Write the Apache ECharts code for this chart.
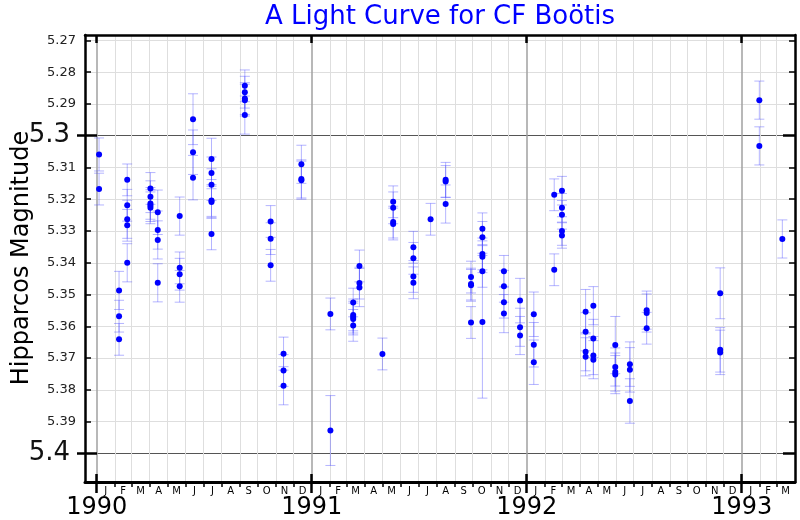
<!DOCTYPE html>
<html><head><meta charset="utf-8">
<script src="https://cdn.jsdelivr.net/npm/echarts@6/dist/echarts.min.js"></script>
<style>html,body{margin:0;padding:0;background:#fff}#c{width:800px;height:520px}</style>
</head><body><div id="c"></div>
<script>
// Observation epochs (decimal year), magnitudes and errors
const obsYear = [
  1990.011,1990.011,
  1990.104,1990.104,1990.104,
  1990.142,1990.142,1990.142,1990.142,1990.142,
  1990.250,1990.250,1990.250,1990.250,1990.250,
  1990.284,1990.284,1990.284,1990.284,
  1990.386,1990.386,1990.386,1990.386,
  1990.448,1990.448,1990.448,
  1990.534,1990.534,1990.534,1990.534,1990.534,1990.534,
  1990.689,1990.689,1990.689,1990.689,1990.689,
  1990.809,1990.809,1990.809,
  1990.869,1990.869,1990.869,
  1990.952,1990.952,1990.952,
  1991.087,1991.087,
  1991.193,1991.193,1991.193,1991.193,1991.193,
  1991.222,1991.222,1991.222,
  1991.329,
  1991.379,1991.379,1991.379,1991.379,
  1991.473,1991.473,1991.473,1991.473,
  1991.553,
  1991.623,1991.623,1991.623,
  1991.741,1991.741,1991.741,1991.741,
  1991.794,1991.794,1991.794,1991.794,1991.794,1991.794,
  1991.894,1991.894,1991.894,1991.894,
  1991.969,1991.969,1991.969,
  1992.033,1992.033,1992.033,
  1992.128,1992.128,
  1992.164,1992.164,1992.164,1992.164,1992.164,
  1992.274,1992.274,1992.274,1992.274,
  1992.310,1992.310,1992.310,1992.310,
  1992.412,1992.412,1992.412,1992.412,
  1992.480,1992.480,1992.480,
  1992.558,1992.558,1992.558,
  1992.900,1992.900,1992.900,
  1993.082,1993.082,
  1993.189
];
const obsMag = [
  5.3059,5.3168,
  5.3487,5.3568,5.3641,
  5.3139,5.3219,5.3263,5.3282,5.3400,
  5.3166,5.3192,5.3213,5.3220,5.3227,
  5.3241,5.3297,5.3328,5.3463,
  5.3253,5.3416,5.3436,5.3474,
  5.2948,5.3052,5.3132,
  5.3073,5.3117,5.3154,5.3204,5.3209,5.3309,
  5.2843,5.2863,5.2883,5.2888,5.2935,
  5.3270,5.3324,5.3408,
  5.3686,5.3739,5.3787,
  5.3090,5.3136,5.3140,
  5.3561,5.3928,
  5.3525,5.3564,5.3571,5.3577,5.3597,
  5.3410,5.3464,5.3478,
  5.3687,
  5.3208,5.3227,5.3272,5.3278,
  5.3351,5.3386,5.3443,5.3463,
  5.3263,
  5.3139,5.3144,5.3215,
  5.3445,5.3467,5.3471,5.3588,
  5.3293,5.3320,5.3372,5.3381,5.3427,5.3586,
  5.3427,5.3474,5.3524,5.3560,
  5.3519,5.3603,5.3629,
  5.3562,5.3658,5.3713,
  5.3186,5.3422,
  5.3173,5.3227,5.3249,5.3300,5.3314,
  5.3554,5.3617,5.3680,5.3696,
  5.3535,5.3638,5.3692,5.3705,
  5.3659,5.3728,5.3744,5.3752,
  5.3719,5.3737,5.3835,
  5.3549,5.3558,5.3606,
  5.3496,5.3674,5.3682,
  5.2888,5.3032,
  5.3325
];
const obsErr = [
  0.0052,0.0050,
  0.0060,0.0050,0.0050,
  0.0050,0.0050,0.0060,0.0050,0.0060,
  0.0050,0.0050,0.0050,0.0050,0.0050,
  0.0070,0.0060,0.0060,0.0060,
  0.0060,0.0050,0.0050,0.0050,
  0.0080,0.0070,0.0070,
  0.0065,0.0050,0.0050,0.0050,0.0050,0.0050,
  0.0050,0.0050,0.0050,0.0050,0.0060,
  0.0050,0.0050,0.0050,
  0.0052,0.0050,0.0060,
  0.0060,0.0060,0.0060,
  0.0050,0.0110,
  0.0045,0.0050,0.0050,0.0050,0.0050,
  0.0050,0.0050,0.0060,
  0.0050,
  0.0050,0.0050,0.0050,0.0050,
  0.0050,0.0050,0.0050,0.0050,
  0.0050,
  0.0055,0.0050,0.0060,
  0.0050,0.0050,0.0050,0.0050,
  0.0050,0.0050,0.0050,0.0050,0.0050,0.0240,
  0.0050,0.0050,0.0050,0.0060,
  0.0070,0.0060,0.0060,
  0.0070,0.0070,0.0070,
  0.0050,0.0050,
  0.0045,0.0045,0.0045,0.0045,0.0040,
  0.0070,0.0060,0.0060,0.0060,
  0.0060,0.0060,0.0060,0.0060,
  0.0090,0.0060,0.0060,0.0060,
  0.0070,0.0070,0.0070,
  0.0060,0.0060,0.0050,
  0.0080,0.0070,0.0070,
  0.0060,0.0060,
  0.0060
];
const yearTicks = [1990, 1991, 1992, 1993];
const monthLetters = ['J','F','M','A','M','J','J','A','S','O','N','D'];
const magMinorTicks = [5.27,5.28,5.29,5.31,5.32,5.33,5.34,5.35,5.36,5.37,5.38,5.39];
const magMajorTicks = [5.3, 5.4];
const magLabels = [5.27,5.28,5.29,5.31,5.32,5.33,5.34,5.35,5.36,5.37,5.38,5.39];

const xMin = 1989.9456, xMax = 1993.2479;
const yMin = 5.2683, yMax = 5.4090;

function decYear(y, m) {
  const start = Date.UTC(y, 0, 1), end = Date.UTC(y + 1, 0, 1);
  return y + (Date.UTC(y, m, 1) - start) / (end - start);
}
const monthBounds = [], monthCenters = [];
for (let y = 1989; y <= 1993; y++) {
  for (let m = 0; m < 12; m++) {
    const a = decYear(y, m);
    const b = m === 11 ? y + 1 : decYear(y, m + 1);
    if (m !== 0 && a > xMin && a < xMax - 0.002) monthBounds.push(a);
    const c = (a + b) / 2;
    if (a >= 1990 - 1e-9 && b <= xMax + 0.002) monthCenters.push(c);
  }
}
const FONT = 'DejaVu Sans';
const chart = echarts.init(document.getElementById('c'), null, {renderer: 'canvas'});
const noAxis = {show: false};
chart.setOption({
  animation: false,
  backgroundColor: '#ffffff',
  grid: {left: 85, right: 5, top: 35, bottom: 38, containLabel: false, outerBoundsMode: 'none'},
  graphic: [
    {type: 'text', x: 440, y: 17, z: 100, style: {text: 'A Light Curve for CF Boötis', fill: '#0000ff',
      font: '26px "DejaVu Sans"', align: 'center', verticalAlign: 'middle'}},
    {type: 'text', x: 22, y: 258, rotation: Math.PI / 2, z: 100, style: {text: 'Hipparcos Magnitude', fill: '#000',
      font: '24px "DejaVu Sans"', align: 'center', verticalAlign: 'middle'}}
  ],
  xAxis: [
    {type: 'value', min: xMin, max: xMax, position: 'bottom',
      axisLine: {show: true, onZero: false, lineStyle: {color: '#000', width: 3}},
      axisTick: {show: true, customValues: monthBounds, inside: false, length: 5, lineStyle: {color: '#000', width: 1.5}},
      axisLabel: {show: false},
      splitLine: {show: true, lineStyle: {color: '#dedede', width: 1}}},
    {type: 'value', min: xMin, max: xMax, position: 'bottom',
      axisLine: {show: false, onZero: false},
      axisTick: {show: true, customValues: yearTicks, inside: false, length: 11, lineStyle: {color: '#000', width: 2.5}},
      axisLabel: {show: true, customValues: yearTicks, margin: 14, fontSize: 24, color: '#000', fontFamily: FONT,
        formatter: v => String(Math.round(v))},
      splitLine: {show: true, lineStyle: {color: '#a0a0a0', width: 1.5}}},
    {type: 'value', min: xMin, max: xMax, position: 'bottom',
      axisLine: {show: false, onZero: false},
      axisTick: {show: true, customValues: yearTicks, inside: true, length: 8, lineStyle: {color: '#000', width: 2.5}},
      axisLabel: {show: false}, splitLine: {show: false}},
    {type: 'value', min: xMin, max: xMax, position: 'bottom',
      axisLine: {show: false, onZero: false},
      axisTick: {show: false},
      axisLabel: {show: true, customValues: monthCenters, margin: 4, fontSize: 10, color: '#000', fontFamily: FONT,
        formatter: v => monthLetters[Math.min(11, Math.floor((v - Math.floor(v)) * 12))]},
      splitLine: {show: false}},
    {type: 'value', min: xMin, max: xMax, position: 'top',
      axisLine: {show: true, onZero: false, lineStyle: {color: '#000', width: 2.5}},
      axisTick: {show: true, customValues: yearTicks, inside: true, length: 8, lineStyle: {color: '#000', width: 2.5}},
      axisLabel: {show: false}, splitLine: {show: false}}
  ],
  yAxis: [
    {type: 'value', inverse: true, min: yMin, max: yMax, position: 'left',
      axisLine: {show: true, onZero: false, lineStyle: {color: '#000', width: 2.5}},
      axisTick: {show: true, customValues: magMinorTicks, inside: true, length: 6, lineStyle: {color: '#000', width: 1.5}},
      axisLabel: {show: true, customValues: magLabels, margin: 9, fontSize: 13, color: '#222', fontFamily: FONT,
        formatter: v => (Math.round(v * 100) / 100).toString()},
      splitLine: {show: true, lineStyle: {color: '#dedede', width: 1}}},
    {type: 'value', inverse: true, min: yMin, max: yMax, position: 'left',
      axisLine: {show: false, onZero: false},
      axisTick: {show: true, customValues: magMajorTicks, inside: false, length: 8, lineStyle: {color: '#000', width: 2.5}},
      axisLabel: {show: true, customValues: magMajorTicks, margin: 15, fontSize: 26, color: '#111', fontFamily: FONT,
        formatter: v => (Math.round(v * 10) / 10).toString()},
      splitLine: {show: true, lineStyle: {color: '#555', width: 1.2}}},
    {type: 'value', inverse: true, min: yMin, max: yMax, position: 'left',
      axisLine: {show: false, onZero: false},
      axisTick: {show: true, customValues: magMajorTicks, inside: true, length: 12, lineStyle: {color: '#000', width: 2.5}},
      axisLabel: {show: false}, splitLine: {show: false}},
    {type: 'value', inverse: true, min: yMin, max: yMax, position: 'right',
      axisLine: {show: true, onZero: false, lineStyle: {color: '#000', width: 2.5}},
      axisTick: {show: true, customValues: magMinorTicks, inside: true, length: 6, lineStyle: {color: '#000', width: 1.5}},
      axisLabel: {show: false}, splitLine: {show: false}},
    {type: 'value', inverse: true, min: yMin, max: yMax, position: 'right',
      axisLine: {show: false, onZero: false},
      axisTick: {show: true, customValues: magMajorTicks, inside: true, length: 12, lineStyle: {color: '#000', width: 2.5}},
      axisLabel: {show: false}, splitLine: {show: false}}
  ],
  series: [
    {type: 'custom', xAxisIndex: 0, yAxisIndex: 0, silent: true, z: 2,
      data: obsYear.map((x, i) => [x, obsMag[i] - obsErr[i], obsMag[i] + obsErr[i]]),
      encode: {x: 0, y: [1, 2]},
      renderItem: (params, api) => {
        const x = api.value(0);
        const lo = api.coord([x, api.value(1)]);
        const hi = api.coord([x, api.value(2)]);
        const hw = 5;
        const style = {stroke: 'rgba(70,70,255,0.4)', lineWidth: 1};
        return {type: 'group', children: [
          {type: 'line', shape: {x1: lo[0], y1: lo[1], x2: hi[0], y2: hi[1]}, style},
          {type: 'line', shape: {x1: lo[0] - hw, y1: lo[1], x2: lo[0] + hw, y2: lo[1]}, style},
          {type: 'line', shape: {x1: hi[0] - hw, y1: hi[1], x2: hi[0] + hw, y2: hi[1]}, style}
        ]};
      }},
    {type: 'scatter', xAxisIndex: 0, yAxisIndex: 0, z: 3, silent: true,
      data: obsYear.map((x, i) => [x, obsMag[i]]),
      symbol: 'circle', symbolSize: 6,
      itemStyle: {color: '#0000ff', opacity: 1}}
  ]
});
</script>
</body></html>
